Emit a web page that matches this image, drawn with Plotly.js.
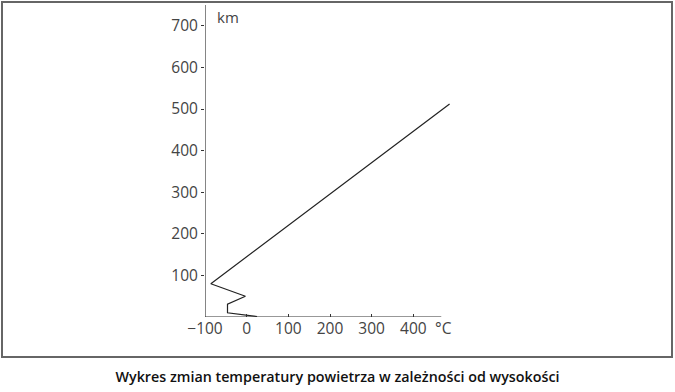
<!DOCTYPE html>
<html>
<head>
<meta charset="utf-8">
<script src="https://cdn.plot.ly/plotly-3.0.1.min.js"></script>
<style>
html,body{margin:0;padding:0;background:#fff;}
#wrap{position:relative;width:675px;height:392px;}
#chart{width:675px;height:392px;}
#frame{position:absolute;left:1px;top:1px;width:668px;height:353px;border:2px solid #666;pointer-events:none;}
</style>
</head>
<body>
<div id="wrap">
<div id="chart"></div>
<div id="frame"></div>
</div>
<script>
// Data
const temperature = [25, -46, -46, -3, -86, 487];   // °C
const altitude    = [1, 10, 31, 50, 80, 512];       // km
const xTicks = [-100, 0, 100, 200, 300, 400];
const xTickLabels = ['\u2212100', '0', '100', '200', '300', '400'];
const yTicks = [100, 200, 300, 400, 500, 600, 700];
const yTickLabels = ['100', '200', '300', '400', '500', '600', '700'];
const chartTitle = 'Wykres zmian temperatury powietrza w zależności od wysokości';

const tickFont = {family: 'Open Sans, sans-serif', size: 15.5, color: '#444'};

const trace = {
  x: temperature,
  y: altitude,
  type: 'scatter',
  mode: 'lines',
  line: {color: '#222', width: 1.2},
  hoverinfo: 'skip'
};

const layout = {
  width: 675,
  height: 392,
  margin: {l: 205, r: 220, t: 5, b: 75},
  paper_bgcolor: '#fff',
  plot_bgcolor: '#fff',
  showlegend: false,
  xaxis: {
    range: [-100, 500],
    tickvals: xTicks,
    ticktext: xTickLabels,
    ticks: 'inside',
    ticklen: 3,
    tickcolor: '#333',
    showline: false,
    showgrid: false,
    zeroline: false,
    tickfont: tickFont,
    fixedrange: true
  },
  yaxis: {
    range: [0, 750],
    tickvals: yTicks,
    ticktext: yTickLabels,
    ticks: 'outside',
    ticklen: 3,
    tickcolor: '#333',
    showline: false,
    showgrid: false,
    zeroline: false,
    tickfont: tickFont,
    fixedrange: true
  },
  shapes: [
    {type: 'line', xref: 'x', yref: 'paper', x0: -100, x1: -100, y0: 0, y1: 1, line: {color: '#333', width: 1.2}},
    {type: 'line', xref: 'x', yref: 'y', x0: -100, x1: 467, y0: 0, y1: 0, line: {color: '#333', width: 1.2}}
  ],
  annotations: [
    {text: 'km', xref: 'x', yref: 'y', x: -76, y: 720, xanchor: 'left', yanchor: 'middle', showarrow: false, font: {family: 'Open Sans, sans-serif', size: 15, color: '#444'}},
    {text: '°C', xref: 'x', yref: 'paper', x: 448, y: 0, yshift: -11, xanchor: 'left', yanchor: 'middle', showarrow: false, font: {family: 'Open Sans, sans-serif', size: 15.5, color: '#444'}}
  ],
  title: {
    text: chartTitle,
    x: 0.5,
    xref: 'container',
    xanchor: 'center',
    y: 1 - 377/392,
    yref: 'container',
    yanchor: 'middle',
    font: {family: 'Open Sans, sans-serif', size: 14.3, color: '#111', weight: 600}
  }
};

Plotly.newPlot('chart', [trace], layout, {displayModeBar: false, staticPlot: true});
</script>
</body>
</html>
